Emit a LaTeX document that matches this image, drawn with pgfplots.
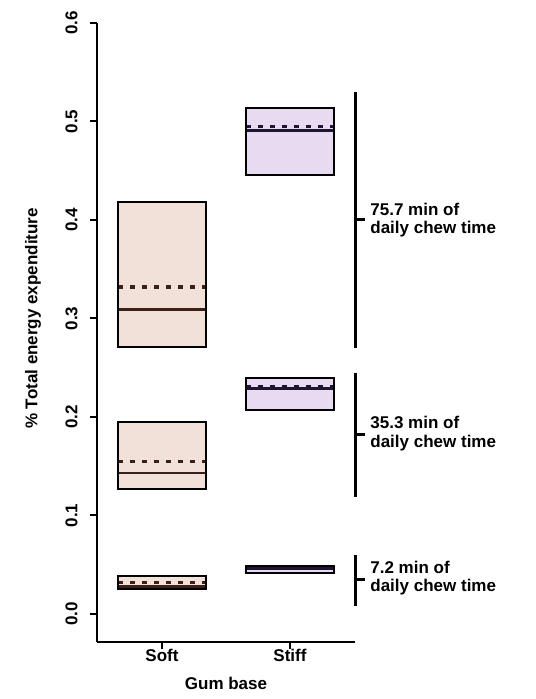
\documentclass[border=0pt]{standalone}
\usepackage{fontspec}
\setmainfont{Liberation Sans}
\usepackage{pgfplots}
\pgfplotsset{compat=1.18}
\definecolor{softfill}{HTML}{F2E1D9}
\definecolor{stifffill}{HTML}{E7DAF1}
\definecolor{softline}{HTML}{3A2018}
\definecolor{stiffline}{HTML}{1E1535}
\newcommand{\lbl}{\fontsize{8.5}{9.3}\selectfont\bfseries}
\begin{document}
\begin{tikzpicture}
\begin{axis}[
  x=64pt, y=492.5pt,
  xmin=0.492, xmax=2.508, ymin=-0.028, ymax=0.6,
  axis x line*=bottom, axis y line*=left,
  axis line style={line width=1pt},
  clip=false,
  xtick={1,2}, xticklabels={Soft,Stiff},
  ytick={0,0.1,0.2,0.3,0.4,0.5,0.6},
  yticklabel={\pgfmathprintnumber[fixed,fixed zerofill,precision=1]{\tick}},
  /pgf/number format/assume math mode=true,
  tick align=outside, major tick length=3.5pt,
  tick style={black, line width=1pt},
  ticklabel style={font=\lbl},
  yticklabel style={rotate=90, anchor=south, inner xsep=0pt, inner ysep=6pt},
  xticklabel style={anchor=north, inner sep=0pt},
  xlabel={Gum base},
  ylabel={\% Total energy expenditure},
  every axis x label/.style={at={(axis cs:1.5,-0.028)}, anchor=north, yshift=-17.5pt, font=\lbl, inner sep=0pt},
  every axis y label/.style={at={(axis cs:-0.0078,0.3)}, rotate=90, anchor=center, font=\lbl, inner sep=0pt},
]
% bounding box of the whole picture
\path (axis cs:-0.2656,-0.0863) rectangle (axis cs:3.9141,0.62335);

% Soft boxes
\addplot[fill=softfill, draw=none] coordinates {(0.657,0.271) (1.343,0.271) (1.343,0.418) (0.657,0.418)} -- cycle;
\addplot[softline, line width=1.3pt] coordinates {(0.657,0.309) (1.343,0.309)};
\addplot[softline, line width=1.7pt, dash pattern=on 2.5pt off 3.5pt] coordinates {(0.657,0.332) (1.343,0.332)};
\addplot[draw=black, line width=1pt] coordinates {(0.657,0.271) (1.343,0.271) (1.343,0.418) (0.657,0.418)} -- cycle;

\addplot[fill=softfill, draw=none] coordinates {(0.657,0.127) (1.343,0.127) (1.343,0.195) (0.657,0.195)} -- cycle;
\addplot[softline, line width=1.3pt] coordinates {(0.657,0.143) (1.343,0.143)};
\addplot[softline, line width=1.7pt, dash pattern=on 2.5pt off 3.5pt] coordinates {(0.657,0.155) (1.343,0.155)};
\addplot[draw=black, line width=1pt] coordinates {(0.657,0.127) (1.343,0.127) (1.343,0.195) (0.657,0.195)} -- cycle;

\addplot[fill=softfill, draw=none] coordinates {(0.657,0.025) (1.343,0.025) (1.343,0.039) (0.657,0.039)} -- cycle;
\addplot[softline, line width=1.3pt] coordinates {(0.657,0.028) (1.343,0.028)};
\addplot[softline, line width=1.7pt, dash pattern=on 2.5pt off 3.5pt] coordinates {(0.657,0.032) (1.343,0.032)};
\addplot[draw=black, line width=1pt] coordinates {(0.657,0.025) (1.343,0.025) (1.343,0.039) (0.657,0.039)} -- cycle;

% Stiff boxes
\addplot[fill=stifffill, draw=none] coordinates {(1.657,0.446) (2.343,0.446) (2.343,0.514) (1.657,0.514)} -- cycle;
\addplot[stiffline, line width=1.3pt] coordinates {(1.657,0.491) (2.343,0.491)};
\addplot[stiffline, line width=1.7pt, dash pattern=on 2.5pt off 3.5pt] coordinates {(1.657,0.495) (2.343,0.495)};
\addplot[draw=black, line width=1pt] coordinates {(1.657,0.446) (2.343,0.446) (2.343,0.514) (1.657,0.514)} -- cycle;

\addplot[fill=stifffill, draw=none] coordinates {(1.657,0.207) (2.343,0.207) (2.343,0.240) (1.657,0.240)} -- cycle;
\addplot[stiffline, line width=1.3pt] coordinates {(1.657,0.229) (2.343,0.229)};
\addplot[stiffline, line width=1.7pt, dash pattern=on 2.5pt off 3.5pt] coordinates {(1.657,0.231) (2.343,0.231)};
\addplot[draw=black, line width=1pt] coordinates {(1.657,0.207) (2.343,0.207) (2.343,0.240) (1.657,0.240)} -- cycle;

\addplot[fill=stifffill, draw=none] coordinates {(1.657,0.042) (2.343,0.042) (2.343,0.0485) (1.657,0.0485)} -- cycle;
\addplot[stiffline, line width=1.3pt] coordinates {(1.657,0.0462) (2.343,0.0462)};
\addplot[stiffline, line width=1.7pt, dash pattern=on 2.5pt off 3.5pt] coordinates {(1.657,0.0470) (2.343,0.0470)};
\addplot[draw=black, line width=1pt] coordinates {(1.657,0.042) (2.343,0.042) (2.343,0.0485) (1.657,0.0485)} -- cycle;

% brackets
\addplot[black, line width=1.5pt] coordinates {(2.508,0.530) (2.508,0.270)};
\addplot[black, line width=1.5pt] coordinates {(2.508,0.400) (2.586,0.400)};
\addplot[black, line width=1.5pt] coordinates {(2.508,0.245) (2.508,0.119)};
\addplot[black, line width=1.5pt] coordinates {(2.508,0.182) (2.586,0.182)};
\addplot[black, line width=1.5pt] coordinates {(2.508,0.060) (2.508,0.008)};
\addplot[black, line width=1.5pt] coordinates {(2.508,0.035) (2.586,0.035)};

\node[anchor=west, align=left, font=\lbl, inner sep=0pt] at (axis cs:2.625,0.400) {75.7 min of\\daily chew time};
\node[anchor=west, align=left, font=\lbl, inner sep=0pt] at (axis cs:2.625,0.183) {35.3 min of\\daily chew time};
\node[anchor=west, align=left, font=\lbl, inner sep=0pt] at (axis cs:2.625,0.0366) {7.2 min of\\daily chew time};
\end{axis}
\end{tikzpicture}
\end{document}
